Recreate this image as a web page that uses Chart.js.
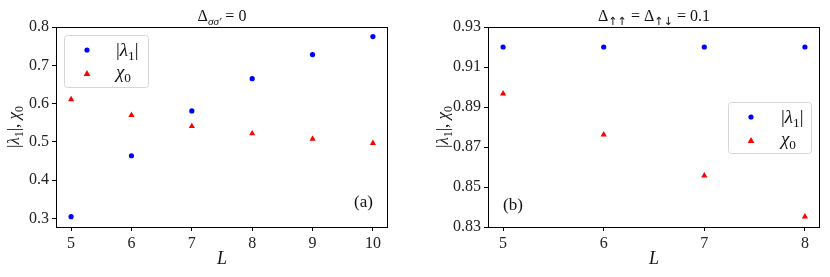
<!DOCTYPE html>
<html>
<head>
<meta charset="utf-8">
<script src="https://cdn.jsdelivr.net/npm/chart.js@4.4.0/dist/chart.umd.min.js"></script>
<style>
  body { margin: 0; background: #fff; }
  #wrap { position: relative; width: 830px; height: 277px; }
  canvas { position: absolute; top: 0; }
</style>
</head>
<body>
<div id="wrap">
  <canvas id="chartA" width="415" height="277" style="left:0"></canvas>
  <canvas id="chartB" width="415" height="277" style="left:415px"></canvas>
</div>
<script>
// panel (a): Delta_{sigma sigma'} = 0
const L_a = [5, 6, 7, 8, 9, 10];
const lambda_a = [0.305, 0.464, 0.581, 0.665, 0.728, 0.775];
const chi_a = [0.611, 0.570, 0.541, 0.522, 0.508, 0.497];
const xTicks_a = [5, 6, 7, 8, 9, 10];
const yTicks_a = [0.3, 0.4, 0.5, 0.6, 0.7, 0.8];

// panel (b): Delta_{up up} = Delta_{up down} = 0.1
const L_b = [5, 6, 7, 8];
const lambda_b = [0.920, 0.920, 0.920, 0.920];
const chi_b = [0.8967, 0.8762, 0.8557, 0.8352];
const xTicks_b = [5, 6, 7, 8];
const yTicks_b = [0.83, 0.85, 0.87, 0.89, 0.91, 0.93];

const SERIF = "'Liberation Serif', 'DejaVu Serif', serif";
const SANS = "'DejaVu Sans', sans-serif";
const BLUE = '#0000ff', RED = '#ff0000';

function segFont(s, size) {
  const fs = s.sub ? size * 0.7 : size;
  return (s.it ? 'italic ' : '') + fs + 'px ' + (s.sans ? SANS : SERIF);
}
// draw a list of segments {t, sub, it} starting at x (baseline y)
function richText(ctx, segs, x, y, size, align) {
  let w = 0;
  segs.forEach(s => { ctx.font = segFont(s, size); w += ctx.measureText(s.t).width + (s.kern || 0); });
  if (align === 'center') x -= w / 2;
  ctx.textAlign = 'left';
  ctx.textBaseline = 'alphabetic';
  ctx.fillStyle = '#111';
  segs.forEach(s => {
    ctx.font = segFont(s, size);
    ctx.fillText(s.t, x, s.sub ? y + size * 0.22 : y);
    x += ctx.measureText(s.t).width + (s.kern || 0);
  });
}

const lamLabel = [{t: '|'}, {t: 'λ', it: true}, {t: '1', sub: true}, {t: '|'}];
const chiLabel = [{t: 'χ', it: true}, {t: '0', sub: true}];
const yLabel = [{t: '|'}, {t: 'λ', it: true}, {t: '1', sub: true}, {t: '|, '}, {t: 'χ', it: true}, {t: '0', sub: true}];

function decorPlugin(cfg) {
  return {
    id: 'decor',
    afterDraw(chart) {
      const ctx = chart.ctx, a = chart.chartArea;
      ctx.save();
      // frame
      ctx.strokeStyle = '#000';
      ctx.lineWidth = 1;
      ctx.strokeRect(Math.round(a.left) + 0.5, Math.round(a.top) + 0.5,
        Math.round(a.right - a.left) - 1, Math.round(a.bottom - a.top));
      // title
      const cx = (a.left + a.right) / 2;
      richText(ctx, cfg.title, cx, 21, 16, 'center');
      // x label
      richText(ctx, [{t: 'L', it: true}], cx, 264, 18, 'center');
      // y label
      ctx.save();
      ctx.translate(cfg.yLabelX, (a.top + a.bottom) / 2);
      ctx.rotate(-Math.PI / 2);
      richText(ctx, yLabel, 0, 0, 17, 'center');
      ctx.restore();
      // panel tag
      richText(ctx, [{t: cfg.tag}], cfg.tagX, cfg.tagY, 17, 'left');
      // legend
      const L = cfg.legend;
      ctx.beginPath();
      if (ctx.roundRect) ctx.roundRect(L.x + 0.5, L.y + 0.5, L.w, L.h, 3);
      else ctx.rect(L.x + 0.5, L.y + 0.5, L.w, L.h);
      ctx.fillStyle = 'rgba(255,255,255,0.8)';
      ctx.fill();
      ctx.strokeStyle = '#d6d6d6';
      ctx.stroke();
      ctx.fillStyle = BLUE;
      ctx.beginPath(); ctx.arc(L.mx, L.y + 15, 2.6, 0, Math.PI * 2); ctx.fill();
      ctx.fillStyle = RED;
      ctx.beginPath();
      ctx.moveTo(L.mx, L.y + 35); ctx.lineTo(L.mx + 3.4, L.y + 41); ctx.lineTo(L.mx - 3.4, L.y + 41);
      ctx.closePath(); ctx.fill();
      richText(ctx, lamLabel, L.tx, L.y + 21, 19, 'left');
      richText(ctx, chiLabel, L.tx, L.y + 43, 19, 'left');
      ctx.restore();
    }
  };
}

function makeChart(id, xs, lam, chi, xTicks, yTicks, xMin, xMax, yMin, yMax, yWidth, padRight, digits, cfg) {
  new Chart(document.getElementById(id), {
    type: 'scatter',
    data: {
      datasets: [
        {
          label: '|λ1|',
          data: xs.map((x, i) => ({x: x, y: lam[i]})),
          pointStyle: 'circle', pointRadius: 2.6, pointHoverRadius: 2.6,
          backgroundColor: BLUE, borderWidth: 0
        },
        {
          label: 'χ0',
          data: xs.map((x, i) => ({x: x, y: chi[i]})),
          pointStyle: 'triangle', pointRadius: 3.6, pointHoverRadius: 3.6,
          backgroundColor: RED, borderWidth: 0
        }
      ]
    },
    options: {
      responsive: false,
      animation: false,
      devicePixelRatio: 1,
      layout: { padding: { left: 0, top: 27, right: padRight, bottom: 0 } },
      plugins: { legend: { display: false }, tooltip: { enabled: false }, title: { display: false } },
      scales: {
        x: {
          type: 'linear', min: xMin, max: xMax,
          afterFit: s => { s.height = 50; },
          afterBuildTicks: s => { s.ticks = xTicks.map(v => ({value: v})); },
          grid: { drawOnChartArea: false, color: '#000', tickLength: 4 },
          border: { display: false },
          ticks: { color: '#222', padding: 3, maxRotation: 0, font: { family: SERIF, size: 16 },
                   callback: v => String(v) }
        },
        y: {
          type: 'linear', min: yMin, max: yMax,
          afterFit: s => { s.width = yWidth; },
          afterBuildTicks: s => { s.ticks = yTicks.map(v => ({value: v})); },
          grid: { drawOnChartArea: false, color: '#000', tickLength: 4 },
          border: { display: false },
          ticks: { color: '#222', padding: 3, font: { family: SERIF, size: 16 },
                   callback: v => Number(v).toFixed(digits) }
        }
      }
    },
    plugins: [decorPlugin(cfg)]
  });
}

makeChart('chartA', L_a, lambda_a, chi_a, xTicks_a, yTicks_a, 4.75, 10.25, 0.278, 0.8, 56, 27, 1, {
  title: [{t: 'Δ'}, {t: 'σσ′', sub: true, it: true}, {t: ' = 0'}],
  yLabelX: 19, tag: '(a)', tagX: 354, tagY: 207,
  legend: {x: 64, y: 35, w: 84, h: 52, mx: 87, tx: 116}
});
makeChart('chartB', L_b, lambda_b, chi_b, xTicks_b, yTicks_b, 4.85, 8.15, 0.83, 0.93, 73, 10, 2, {
  title: [{t: 'Δ'}, {t: '↑↑', sub: true, sans: true}, {t: ' = Δ'}, {t: '↑↓', sub: true, sans: true}, {t: ' = 0.1'}],
  yLabelX: 33, tag: '(b)', tagX: 88, tagY: 210,
  legend: {x: 313, y: 102, w: 83, h: 51, mx: 336, tx: 366}
});
</script>
</body>
</html>
